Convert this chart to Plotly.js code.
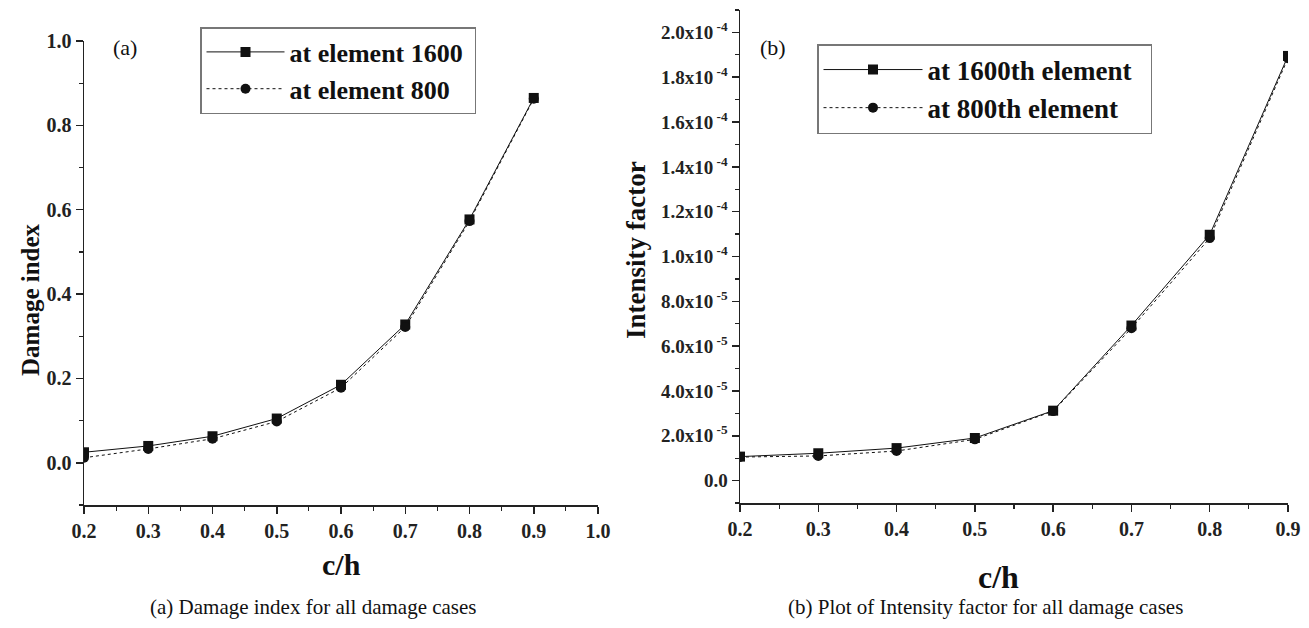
<!DOCTYPE html>
<html>
<head>
<meta charset="utf-8">
<script src="https://cdn.plot.ly/plotly-3.0.1.min.js"></script>
<style>html,body{margin:0;padding:0;background:#fff;}#chart{width:1309px;height:628px;}</style>
</head>
<body>
<div id="chart"></div>
<script>
// ---- data ----
var ch = [0.2, 0.3, 0.4, 0.5, 0.6, 0.7, 0.8, 0.9];
var damage1600 = [0.025, 0.040, 0.063, 0.105, 0.185, 0.328, 0.577, 0.865];
var damage800  = [0.012, 0.033, 0.057, 0.098, 0.178, 0.322, 0.573, 0.863];
var intensity1600 = [1.07e-5, 1.22e-5, 1.45e-5, 1.90e-5, 3.12e-5, 6.92e-5, 1.097e-4, 1.895e-4];
var intensity800  = [1.05e-5, 1.10e-5, 1.32e-5, 1.84e-5, 3.10e-5, 6.80e-5, 1.082e-4, 1.885e-4];
var leftXTicks = [0.2, 0.3, 0.4, 0.5, 0.6, 0.7, 0.8, 0.9, 1.0];
var leftXLabels = ['0.2','0.3','0.4','0.5','0.6','0.7','0.8','0.9','1.0'];
var leftYTicks = [0.0, 0.2, 0.4, 0.6, 0.8, 1.0];
var leftYLabels = ['0.0','0.2','0.4','0.6','0.8','1.0'];
var rightXTicks = [0.2, 0.3, 0.4, 0.5, 0.6, 0.7, 0.8, 0.9];
var rightXLabels = ['0.2','0.3','0.4','0.5','0.6','0.7','0.8','0.9'];
var rightYTicks = [0, 2e-5, 4e-5, 6e-5, 8e-5, 1e-4, 1.2e-4, 1.4e-4, 1.6e-4, 1.8e-4, 2e-4];
var rightYLabels = ['0.0','2.0x10<sup> -5</sup>','4.0x10<sup> -5</sup>','6.0x10<sup> -5</sup>','8.0x10<sup> -5</sup>',
  '1.0x10<sup> -4</sup>','1.2x10<sup> -4</sup>','1.4x10<sup> -4</sup>','1.6x10<sup> -4</sup>','1.8x10<sup> -4</sup>','2.0x10<sup> -4</sup>'];

var W = 1309, H = 628;
function px(x){return x/W;}
function py(y){return 1 - y/H;}
var serif = '"Liberation Serif", "Times New Roman", serif';
var tickFont = {family: serif, size: 20, color: '#222'};

var traces = [
  {x: ch, y: damage1600, xaxis:'x', yaxis:'y', mode:'lines+markers', name:'<b>at element 1600</b>&nbsp;',
   line:{color:'#111', width:1, dash:'solid'}, marker:{symbol:'square', size:10, color:'#111'}, legend:'legend'},
  {x: ch, y: damage800, xaxis:'x', yaxis:'y', mode:'lines+markers', name:'<b>at element 800</b>&nbsp;',
   line:{color:'#111', width:1, dash:'dot'}, marker:{symbol:'circle', size:10, color:'#111'}, legend:'legend'},
  {x: ch, y: intensity1600, xaxis:'x2', yaxis:'y2', mode:'lines+markers', name:'<b>at 1600th element</b>&nbsp;&nbsp;',
   line:{color:'#111', width:1, dash:'solid'}, marker:{symbol:'square', size:10, color:'#111'}, legend:'legend2'},
  {x: ch, y: intensity800, xaxis:'x2', yaxis:'y2', mode:'lines+markers', name:'<b>at 800th element</b>&nbsp;&nbsp;',
   line:{color:'#111', width:1, dash:'dot'}, marker:{symbol:'circle', size:10, color:'#111'}, legend:'legend2'}
];

function axisBase(){
  return {showgrid:false, zeroline:false, showline:true, linecolor:'#222', linewidth:1.5,
    ticks:'outside', ticklen:7, tickwidth:1.5, tickcolor:'#222', tickfont:tickFont};
}
function bold(arr){return arr.map(function(s){return '<b>'+s+'</b>';});}

var xa = Object.assign(axisBase(), {domain:[px(84), px(598)], range:[0.2, 1.0], anchor:'y',
  tickmode:'array', tickvals:leftXTicks, ticktext:bold(leftXLabels),
  minor:{ticks:'outside', ticklen:4, tickwidth:1.2, tickcolor:'#222', dtick:0.05, tick0:0.2}});
var ya = Object.assign(axisBase(), {domain:[py(505), py(41)], range:[-0.1, 1.0], anchor:'x',
  tickmode:'array', tickvals:leftYTicks, ticktext:bold(leftYLabels),
  minor:{ticks:'outside', ticklen:4, tickwidth:1.2, tickcolor:'#222', dtick:0.1, tick0:0}});
var xa2 = Object.assign(axisBase(), {domain:[px(740), px(1288)], range:[0.2, 0.9], anchor:'y2',
  tickmode:'array', tickvals:rightXTicks, ticktext:bold(rightXLabels),
  minor:{ticks:'outside', ticklen:4, tickwidth:1.2, tickcolor:'#222', dtick:0.05, tick0:0.2}});
var ya2 = Object.assign(axisBase(), {domain:[py(503), py(10)], range:[-1e-5, 2.1e-4], anchor:'x2',
  tickmode:'array', tickvals:rightYTicks, ticktext:bold(rightYLabels),
  tickfont:{family: serif, size: 19, color:'#222'},
  minor:{ticks:'outside', ticklen:4, tickwidth:1.2, tickcolor:'#222', dtick:1e-5, tick0:0}});

var legendBase = {bgcolor:'#fff', bordercolor:'#777', borderwidth:1.5, xanchor:'left', yanchor:'top',
  tracegroupgap:0};

var layout = {
  width: W, height: H,
  margin:{l:0, r:0, t:0, b:0},
  paper_bgcolor:'#fff', plot_bgcolor:'#fff',
  xaxis: xa, yaxis: ya, xaxis2: xa2, yaxis2: ya2,
  showlegend: true,
  legend: Object.assign({}, legendBase, {x: px(200), y: py(27), itemwidth:78,
    font:{family:serif, size:26, color:'#111'}}),
  legend2: Object.assign({}, legendBase, {x: px(817), y: py(44), itemwidth:99,
    font:{family:serif, size:27, color:'#111'}}),
  annotations: [
    {text:'<b>Damage index</b>', x:px(30), y:py(300), xref:'paper', yref:'paper', textangle:-90, showarrow:false,
     xanchor:'center', yanchor:'middle', font:{family:serif, size:25, color:'#111'}},
    {text:'<b>Intensity factor</b>', x:px(636), y:py(250), xref:'paper', yref:'paper', textangle:-90, showarrow:false,
     xanchor:'center', yanchor:'middle', font:{family:serif, size:27, color:'#111'}},
    {text:'<b>c/h</b>', x:px(341), y:py(564), xref:'paper', yref:'paper', showarrow:false,
     xanchor:'center', yanchor:'middle', font:{family:serif, size:30, color:'#111'}},
    {text:'<b>c/h</b>', x:px(998), y:py(577), xref:'paper', yref:'paper', showarrow:false,
     xanchor:'center', yanchor:'middle', font:{family:serif, size:32, color:'#111'}},
    {text:'(a)', x:px(125), y:py(48), xref:'paper', yref:'paper', showarrow:false,
     xanchor:'center', yanchor:'middle', font:{family:serif, size:22, color:'#111'}},
    {text:'(b)', x:px(773), y:py(48), xref:'paper', yref:'paper', showarrow:false,
     xanchor:'center', yanchor:'middle', font:{family:serif, size:22, color:'#111'}},
    {text:'(a) Damage index for all damage cases', x:px(313), y:py(607), xref:'paper', yref:'paper', showarrow:false,
     xanchor:'center', yanchor:'middle', font:{family:serif, size:21, color:'#111'}},
    {text:'(b) Plot of Intensity factor for all damage cases', x:px(985), y:py(607), xref:'paper', yref:'paper', showarrow:false,
     xanchor:'center', yanchor:'middle', font:{family:serif, size:21, color:'#111'}}
  ]
};

Plotly.newPlot('chart', traces, layout, {displayModeBar:false, staticPlot:true});
</script>
</body>
</html>
